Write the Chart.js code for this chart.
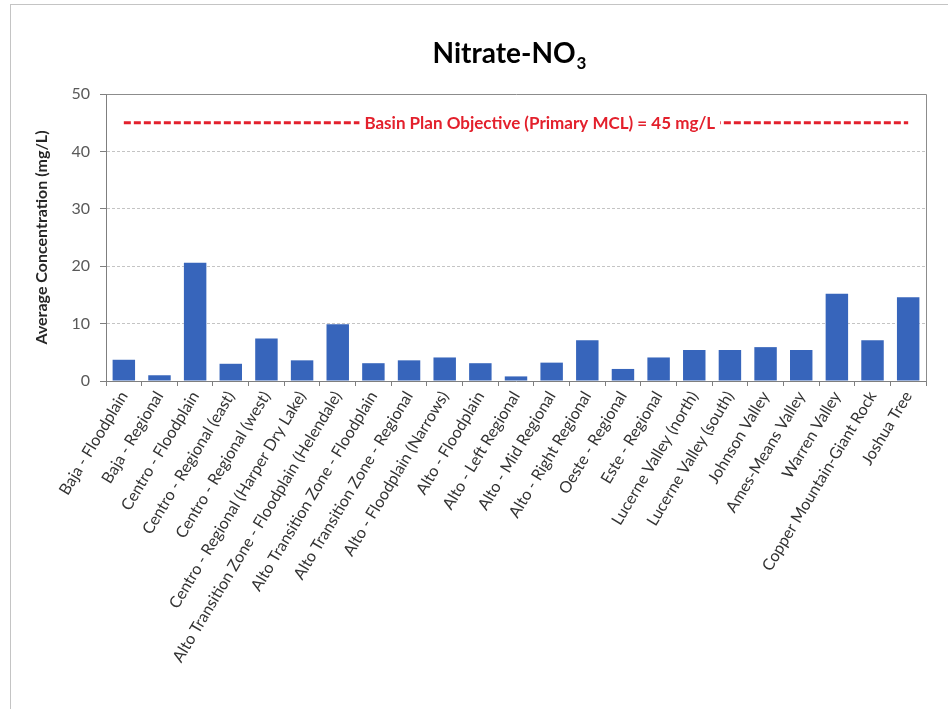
<!DOCTYPE html>
<html><head><meta charset="utf-8">
<script src="https://cdn.jsdelivr.net/npm/chart.js@4.4.0/dist/chart.umd.min.js"></script>
<style>html,body{margin:0;padding:0;background:#fff;} #wrap{width:948px;height:709px;position:relative}</style>
</head><body><div id="wrap"><canvas id="c"></canvas></div>
<script>
const categories = [
  'Baja - Floodplain',
  'Baja - Regional',
  'Centro - Floodplain',
  'Centro - Regional (east)',
  'Centro - Regional (west)',
  'Centro - Regional (Harper Dry Lake)',
  'Alto Transition Zone - Floodplain (Helendale)',
  'Alto Transition Zone - Floodplain',
  'Alto Transition Zone - Regional',
  'Alto - Floodplain (Narrows)',
  'Alto - Floodplain',
  'Alto - Left Regional',
  'Alto - Mid Regional',
  'Alto - Right Regional',
  'Oeste - Regional',
  'Este - Regional',
  'Lucerne Valley (north)',
  'Lucerne Valley (south)',
  'Johnson Valley',
  'Ames-Means Valley',
  'Warren Valley',
  'Copper Mountain-Giant Rock',
  'Joshua Tree'
];
const nitrateValues = [3.7, 1.0, 20.6, 3.0, 7.4, 3.6, 9.9, 3.1, 3.6, 4.1, 3.1, 0.8, 3.2, 7.1, 2.1, 4.1, 5.4, 5.4, 5.9, 5.4, 15.2, 7.1, 14.6];
const objectiveValue = 45;
const objectiveLabel = 'Basin Plan Objective (Primary MCL) = 45 mg/L';
const yTicks = [0, 10, 20, 30, 40, 50];
const titleMain = 'Nitrate-NO';
const titleSub = '3';
const yAxisTitle = 'Average Concentration (mg/L)';

const FONT = 'Lato';

const framePlugin = {
  id: 'frame',
  beforeDraw(chart) {
    const ctx = chart.ctx;
    ctx.save();
    ctx.fillStyle = '#fff';
    ctx.fillRect(0, 0, chart.width, chart.height);
    ctx.strokeStyle = '#c4c4c4';
    ctx.lineWidth = 1;
    ctx.strokeRect(10.5, 4.5, chart.width + 20, chart.height + 20);
    ctx.restore();
  },
  beforeDatasetsDraw(chart) {
    const ctx = chart.ctx, a = chart.chartArea;
    ctx.save();
    ctx.strokeStyle = '#8c8c8c';
    ctx.lineWidth = 1;
    ctx.beginPath();
    ctx.moveTo(Math.round(a.left) + 0.5, Math.round(a.top) + 0.5);
    ctx.lineTo(Math.round(a.right) + 0.5, Math.round(a.top) + 0.5);
    ctx.lineTo(Math.round(a.right) + 0.5, Math.round(a.bottom) + 0.5);
    ctx.stroke();
    ctx.restore();
  },
  afterDraw(chart) {
    const ctx = chart.ctx, a = chart.chartArea;
    ctx.save();
    ctx.fillStyle = '#000';
    ctx.textBaseline = 'alphabetic';
    const mainFont = 'bold 28px ' + FONT;
    const subFont = 'bold 17px ' + FONT;
    ctx.font = mainFont;
    const w1 = ctx.measureText(titleMain).width;
    ctx.font = subFont;
    const w2 = ctx.measureText(titleSub).width;
    const cx = (a.left + a.right) / 2 - 7;
    const x0 = cx - (w1 + w2) / 2;
    const base = a.top - 31;
    ctx.font = mainFont;
    ctx.fillText(titleMain, x0, base);
    ctx.font = subFont;
    ctx.fillText(titleSub, x0 + w1 + 1, base + 6);
    ctx.restore();
  },
  afterDatasetsDraw(chart) {
    const ctx = chart.ctx, a = chart.chartArea;
    const y = chart.scales.y.getPixelForValue(objectiveValue);
    ctx.save();
    ctx.font = 'bold 17px ' + FONT;
    const w = ctx.measureText(objectiveLabel).width;
    const cx = a.left + a.width * 0.529;
    ctx.fillStyle = '#fff';
    ctx.fillRect(cx - w / 2 - 5, y - 11, w + 10, 22);
    ctx.fillStyle = '#e3202c';
    ctx.textAlign = 'center';
    ctx.textBaseline = 'middle';
    ctx.fillText(objectiveLabel, cx, y + 1);
    ctx.restore();
  }
};

new Chart(document.getElementById('c'), {
  data: {
    labels: categories,
    datasets: [
      {
        type: 'line',
        label: objectiveLabel,
        data: categories.map(() => objectiveValue),
        borderColor: '#e3202c',
        borderWidth: 3,
        borderDash: [7, 3],
        pointRadius: 0,
        fill: false,
        order: 1
      },
      {
        type: 'bar',
        label: 'Nitrate',
        data: nitrateValues,
        backgroundColor: '#3765bb',
        borderWidth: 0,
        barPercentage: 0.63,
        categoryPercentage: 1,
        order: 2
      }
    ]
  },
  options: {
    responsive: true,
    maintainAspectRatio: false,
    animation: false,
    layout: { padding: { top: 94, right: 22, left: 0, bottom: 0 } },
    plugins: { legend: { display: false }, tooltip: { enabled: false }, title: { display: false } },
    scales: {
      x: {
        grid: { offset: true, drawOnChartArea: false, drawTicks: true, tickLength: 5, tickColor: '#7f7f7f', color: '#7f7f7f' },
        border: { color: '#7f7f7f', width: 1 },
        ticks: { autoSkip: false, minRotation: 59, maxRotation: 59, padding: 2, color: '#333333', font: { family: FONT, size: 16 } },
        afterFit(s) { s.height = 328; }
      },
      y: {
        min: 0, max: 50,
        afterBuildTicks(s) { s.ticks = yTicks.map(v => ({ value: v })); },
        ticks: { padding: 10, color: '#595959', font: { family: FONT, size: 16 } },
        grid: {
          color: (c) => (c.tick && (c.tick.value === 0 || c.tick.value === 50)) ? 'rgba(0,0,0,0)' : '#c4c4c4',
          tickColor: '#7f7f7f', tickLength: 6, drawTicks: true
        },
        border: { color: '#7f7f7f', width: 1, dash: [3, 2] },
        title: { display: true, text: yAxisTitle, color: '#262626', font: { family: FONT, size: 16, weight: 'bold' }, padding: { top: 32, bottom: 0 } },
        afterFit(s) { s.width = 106; }
      }
    }
  },
  plugins: [framePlugin]
});
</script>
</body></html>
